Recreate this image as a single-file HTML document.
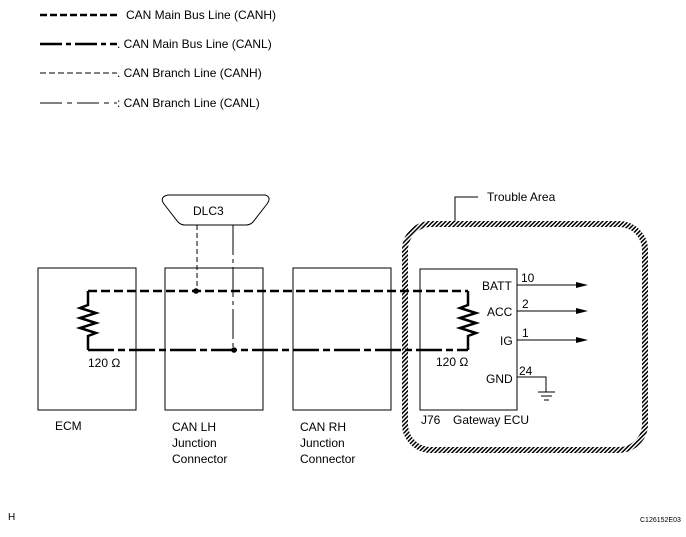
<!DOCTYPE html>
<html><head><style>
body{margin:0;background:#fff;}
svg text{font-family:"Liberation Sans",Arial,sans-serif;fill:#000;}
</style></head><body>
<svg width="686" height="532" viewBox="0 0 686 532" xmlns="http://www.w3.org/2000/svg">
<defs>
<pattern id="h" width="3" height="3" patternUnits="userSpaceOnUse" patternTransform="rotate(45)">
<rect width="3" height="3" fill="#fff"/><line x1="0.5" y1="0" x2="0.5" y2="3" stroke="#000" stroke-width="2"/>
</pattern>
</defs>
<g stroke="#000" fill="none">
<line x1="40" y1="15" x2="117" y2="15" stroke-width="2.5" stroke-dasharray="7,3"/>
<line x1="40" y1="44" x2="117" y2="44" stroke-width="2.5" stroke-dasharray="22,4,5,4"/>
<line x1="40" y1="73" x2="117" y2="73" stroke-width="1" stroke-dasharray="6,3"/>
<line x1="40" y1="103" x2="117" y2="103" stroke-width="1" stroke-dasharray="22,5,5,5"/>
</g>
<g font-size="12">
<text x="126" y="19">CAN Main Bus Line (CANH)</text>
<text x="117" y="48">. CAN Main Bus Line (CANL)</text>
<text x="117" y="77">. CAN Branch Line (CANH)</text>
<text x="117" y="107">: CAN Branch Line (CANL)</text>
</g>
<rect x="405" y="224" width="240" height="226" rx="26" fill="none" stroke="url(#h)" stroke-width="6"/>
<polyline points="455,221 455,197 478,197" fill="none" stroke="#000" stroke-width="1"/>
<text x="487" y="201" font-size="12">Trouble Area</text>
<g fill="none" stroke="#000" stroke-width="1">
<rect x="38" y="268" width="98" height="142"/>
<rect x="165" y="268" width="98" height="142"/>
<rect x="293" y="268" width="98" height="142"/>
<rect x="420" y="269" width="97" height="141"/>
<path d="M168,195 H265 Q272,197 267,204 L253,222 Q250,225 246,225 H185 Q181,225 178,222 L164,204 Q159,197 168,195 Z"/>
</g>
<text x="193" y="215" font-size="12">DLC3</text>
<g fill="none" stroke="#000" stroke-width="2.5">
<line x1="88" y1="291" x2="468" y2="291" stroke-dasharray="9,4"/>
<line x1="88" y1="350" x2="468" y2="350" stroke-dasharray="26,4,7,4"/>
<polyline points="88,291 88,305 80,308 96,313 80,318 96,323 80,328 96,333 88,336 88,350"/>
<polyline points="468,291 468,305 460,308 476,313 460,318 476,323 460,328 476,333 468,336 468,350"/>
</g>
<g stroke="#000" stroke-width="1" fill="none">
<line x1="197" y1="225" x2="197" y2="291" stroke-dasharray="5,3"/>
<line x1="233" y1="225" x2="233" y2="350" stroke-dasharray="30,4,4,4"/>
</g>
<circle cx="196" cy="291" r="2.8"/>
<circle cx="234" cy="350" r="2.8"/>
<g font-size="12">
<text x="88" y="367">120 Ω</text>
<text x="436" y="366">120 Ω</text>
<text x="55" y="430">ECM</text>
<text x="172" y="431">CAN LH</text><text x="172" y="447">Junction</text><text x="172" y="463">Connector</text>
<text x="300" y="431">CAN RH</text><text x="300" y="447">Junction</text><text x="300" y="463">Connector</text>
<text x="421" y="424">J76</text><text x="453" y="424">Gateway ECU</text>
<text x="482" y="290">BATT</text><text x="487" y="316">ACC</text><text x="500" y="345">IG</text><text x="486" y="383">GND</text>
<text x="521" y="282">10</text><text x="522" y="308">2</text><text x="522" y="337">1</text><text x="519" y="375">24</text>
<text x="8" y="520" font-size="10">H</text>
</g>
<text x="640" y="522" font-size="7">C126152E03</text>
<g stroke="#000" stroke-width="1" fill="none">
<line x1="517" y1="285" x2="578" y2="285"/>
<line x1="517" y1="311" x2="578" y2="311"/>
<line x1="517" y1="340" x2="578" y2="340"/>
<polyline points="517,377 546,377 546,392"/>
<line x1="538" y1="392" x2="555" y2="392"/>
<line x1="541" y1="396" x2="552" y2="396"/>
<line x1="544" y1="400" x2="549" y2="400"/>
</g>
<g fill="#000">
<polygon points="588,285 576,282 576,288"/>
<polygon points="588,311 576,308 576,314"/>
<polygon points="588,340 576,337 576,343"/>
</g>
</svg>
</body></html>
